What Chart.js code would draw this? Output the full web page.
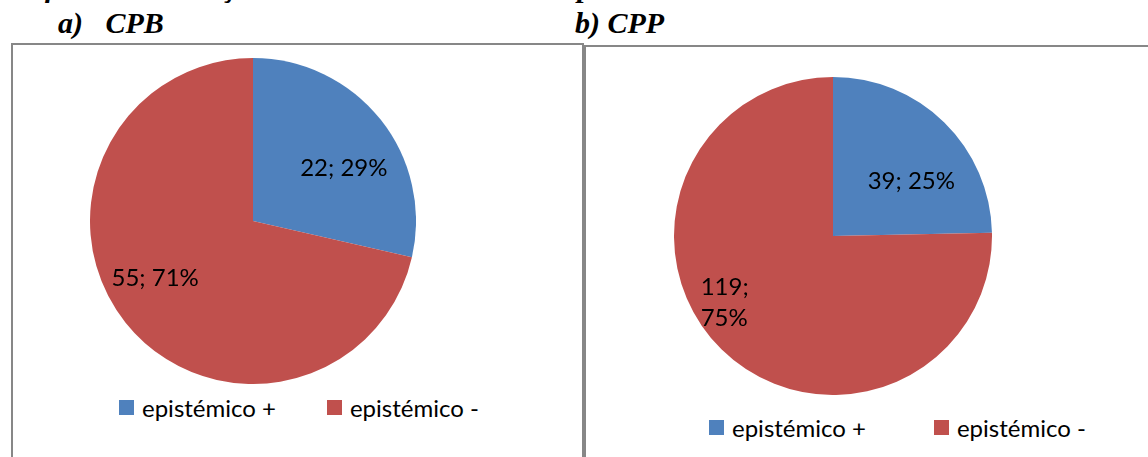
<!DOCTYPE html>
<html>
<head>
<meta charset="utf-8">
<script src="https://cdn.jsdelivr.net/npm/chart.js@4"></script>
<style>
  html, body { margin: 0; padding: 0; background: #fff; }
  body { width: 1148px; height: 457px; position: relative; overflow: hidden; }
  .ttl { position: absolute; font-family: "Liberation Serif", serif; font-weight: bold; font-style: italic;
         font-size: 30px; white-space: pre; line-height: 1; color: #000; }
  .box { position: absolute; border: 2px solid #878787; box-sizing: border-box; }
  .pie { position: absolute; }
  .legend { position: absolute; display: flex; align-items: center; font-family: Lato, sans-serif;
            font-size: 24px; color: #000; white-space: pre; }
  .legend span.sw { display: inline-block; width: 15px; height: 15px; margin-right: 8px; }
</style>
</head>
<body>
<div class="ttl" style="left:0px; top:-28px; letter-spacing:-1.1px;">Gráfico 1: Distribuição do nível do conhecimento epistémico</div>
<div class="ttl" style="left:58px; top:8px;">a)   CPB</div>
<div class="ttl" style="left:575px; top:8px;">b) CPP</div>

<div class="box" style="left:11px; top:43px; width:573px; height:440px;"></div>
<div class="box" style="left:584px; top:45px; width:600px; height:440px;"></div>

<canvas id="pieA" class="pie" width="326" height="326" style="left:90px; top:58px;"></canvas>
<canvas id="pieB" class="pie" width="318" height="318" style="left:674px; top:77px;"></canvas>

<div id="legA" class="legend" style="left:119px; top:393px;"></div>
<div id="legB" class="legend" style="left:709px; top:413px;"></div>

<script>
const categories = ['epistémico +', 'epistémico -'];
const cpbValues = [22, 55];
const cppValues = [39, 119];
const sliceColors = ['#4F81BD', '#C0504D'];

// "value; pct%" labels, placed at the slice mid-angle and nudged like the Excel best-fit
const sliceLabels = {
    id: 'sliceLabels',
    afterDatasetsDraw(chart, args, opts) {
        const ctx = chart.ctx;
        const data = chart.data.datasets[0].data;
        const total = data.reduce((a, b) => a + b, 0);
        ctx.save();
        ctx.font = '24px Lato, sans-serif';
        ctx.fillStyle = '#000';
        ctx.textBaseline = 'middle';
        chart.getDatasetMeta(0).data.forEach((arc, i) => {
            const p = arc.getProps(['x', 'y', 'startAngle', 'endAngle', 'outerRadius'], true);
            const mid = (p.startAngle + p.endAngle) / 2;
            const r = p.outerRadius * 0.65;
            const nudge = opts.nudge[i] || [0, 0];
            const cx = p.x + Math.cos(mid) * r + nudge[0];
            const cy = p.y + Math.sin(mid) * r + nudge[1];
            const pct = Math.round(data[i] / total * 100);
            const lines = opts.wrap[i] ? [data[i] + ';', pct + '%'] : [data[i] + '; ' + pct + '%'];
            const w = Math.max(...lines.map(l => ctx.measureText(l).width));
            const lh = 31;
            lines.forEach((l, k) => {
                ctx.textAlign = 'left';
                ctx.fillText(l, cx - w / 2, cy + (k - (lines.length - 1) / 2) * lh);
            });
        });
        ctx.restore();
    }
};

function makePie(id, values, nudge, wrap) {
    new Chart(document.getElementById(id), {
        type: 'pie',
        data: {
            labels: categories,
            datasets: [{
                data: values,
                backgroundColor: sliceColors,
                borderWidth: 0
            }]
        },
        options: {
            responsive: false,
            animation: false,
            events: [],
            layout: { padding: 0 },
            plugins: {
                legend: { display: false },
                tooltip: { enabled: false },
                sliceLabels: { nudge: nudge, wrap: wrap }
            }
        },
        plugins: [sliceLabels]
    });
}

function makeLegend(id, gap) {
    const el = document.getElementById(id);
    categories.forEach((c, i) => {
        const item = document.createElement('div');
        item.style.display = 'flex';
        item.style.alignItems = 'center';
        if (i > 0) item.style.marginLeft = gap + 'px';
        item.innerHTML = '<span class="sw" style="background:' + sliceColors[i] + '"></span>' + c;
        el.appendChild(item);
    });
}

makePie('pieA', cpbValues, [[8, 13], [-15, -9]], [false, false]);
makePie('pieB', cppValues, [[6, 19], [-36, -7]], [false, true]);
makeLegend('legA', 51);
makeLegend('legB', 68);
</script>
</body>
</html>
